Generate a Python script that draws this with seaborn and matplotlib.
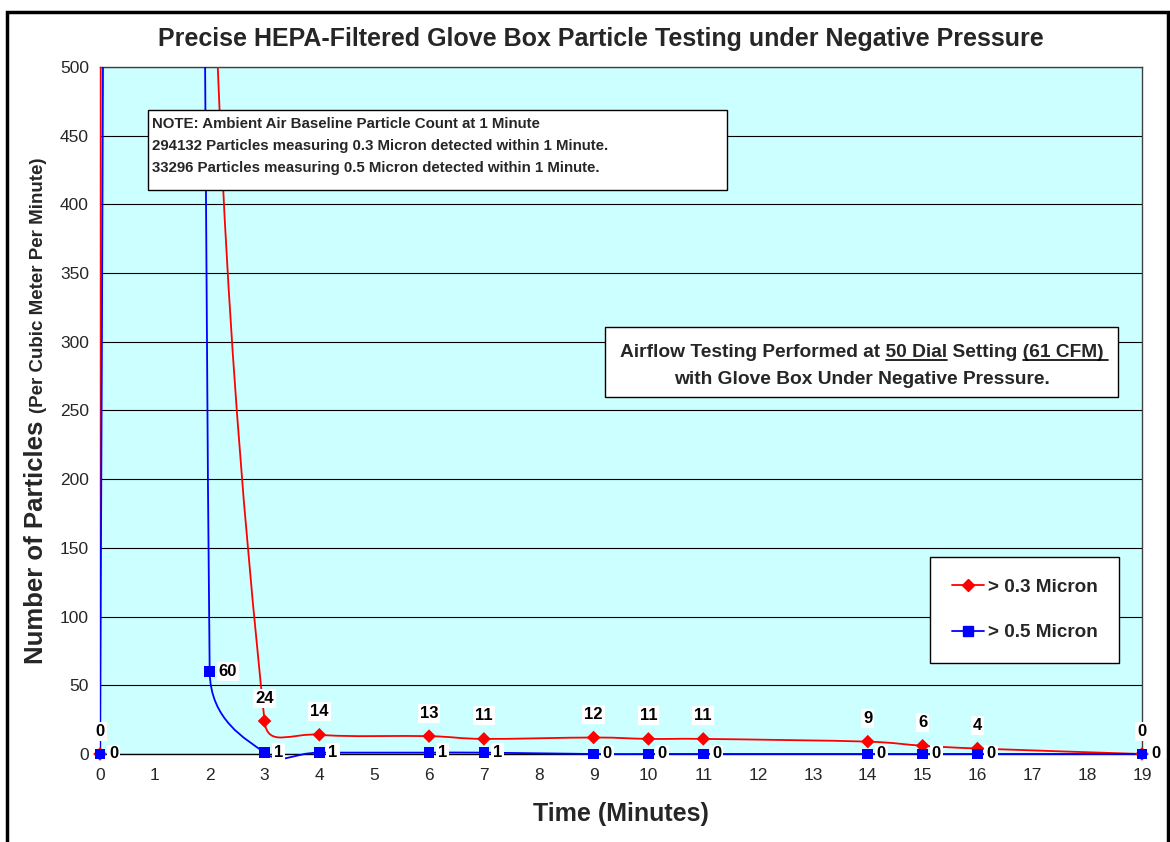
import numpy as np
import pandas as pd
import matplotlib
matplotlib.use("Agg")
import matplotlib.pyplot as plt
from matplotlib.path import Path
from matplotlib.patches import PathPatch, Rectangle
from matplotlib.lines import Line2D
import seaborn as sns

# data (values at 1 and 2 minutes run off the top, estimated)
minutes = [0, 1, 2, 3, 4, 6, 7, 9, 10, 11, 14, 15, 16, 19]
micron_03 = [0, 40000, 800, 24, 14, 13, 11, 12, 11, 11, 9, 6, 4, 0]
micron_05 = [0, 8000, 60, 1, 1, 1, 1, 0, 0, 0, 0, 0, 0, 0]
series_names = ["> 0.3 Micron", "> 0.5 Micron"]
x_ticks = list(range(0, 20))
y_ticks = list(range(0, 501, 50))

sns.set_style("white")
plt.rcParams["font.family"] = ["Liberation Sans", "DejaVu Sans"]

W, H, DPI = 1170, 842, 100
fig = plt.figure(figsize=(W / DPI, H / DPI), dpi=DPI)
ax_l, ax_r, ax_t, ax_b = 100, 1142, 67, 754
ax = fig.add_axes([ax_l / W, (H - ax_b) / H, (ax_r - ax_l) / W, (ax_b - ax_t) / H])
ax.set_facecolor("#CCFFFF")
ax.set_xlim(0, 19)
ax.set_ylim(0, 500)

# scale factors from data to pixels, used for Excel-like smoothing
sx = (ax_r - ax_l) / 19.0
sy = (ax_b - ax_t) / 500.0


def smooth_path(xs, ys):
    # Excel style: Catmull-Rom control points, clamped to half the segment
    pts = np.column_stack([np.array(xs, float) * sx, np.array(ys, float) * sy])
    n = len(pts)
    verts = [pts[0]]
    codes = [Path.MOVETO]
    for i in range(n - 1):
        p0 = pts[i - 1] if i > 0 else pts[i]
        p1 = pts[i]
        p2 = pts[i + 1]
        p3 = pts[i + 2] if i + 2 < n else pts[i + 1]
        d12 = np.linalg.norm(p2 - p1)
        d02 = np.linalg.norm(p2 - p0)
        d13 = np.linalg.norm(p3 - p1)
        f1 = 1 / 6 if d02 / 6 < d12 / 2 else d12 / 2 / d02
        f2 = 1 / 6 if d13 / 6 < d12 / 2 else d12 / 2 / d13
        c1 = p1 + (p2 - p0) * f1
        c2 = p2 - (p3 - p1) * f2
        verts += [c1, c2, p2]
        codes += [Path.CURVE4] * 3
    verts = np.array(verts) / np.array([sx, sy])
    return Path(verts, codes)


colors = {"> 0.3 Micron": "#FF0000", "> 0.5 Micron": "#0000FF"}
markers = {"> 0.3 Micron": "D", "> 0.5 Micron": "s"}

for name, vals in zip(series_names, [micron_03, micron_05]):
    patch = PathPatch(smooth_path(minutes, vals), facecolor="none",
                      edgecolor=colors[name], lw=1.3, zorder=3)
    ax.add_patch(patch)
    # let the small dip below zero show, but keep the rest inside the plot
    clip = Rectangle((0, -12), 19, 512, transform=ax.transData)
    patch.set_clip_path(clip)

df = pd.DataFrame({
    "minute": minutes * 2,
    "count": micron_03 + micron_05,
    "series": [series_names[0]] * len(minutes) + [series_names[1]] * len(minutes),
})
vis = df[df["count"] <= 500]
for name in series_names:
    sub = vis[vis["series"] == name]
    sns.scatterplot(data=sub, x="minute", y="count", marker=markers[name],
                    color=colors[name], s=60 if name == series_names[1] else 48,
                    edgecolor="none", clip_on=False, zorder=5, ax=ax, legend=False)

# data labels
lab_font = dict(fontsize=12, fontweight="bold", color="black")
box = dict(facecolor="white", edgecolor="none", pad=1.5)
for _, r in vis.iterrows():
    label = f"{int(r['count'])}"
    if r["series"] == series_names[0]:
        ax.annotate(label, (r["minute"], r["count"]), xytext=(0, 23),
                    textcoords="offset pixels", ha="center", va="center",
                    bbox=box, zorder=6, annotation_clip=False, **lab_font)
    else:
        ax.annotate(label, (r["minute"], r["count"]), xytext=(9, 0),
                    textcoords="offset pixels", ha="left", va="center",
                    bbox=box, zorder=6, annotation_clip=False, **lab_font)

# axes styling
ax.set_xticks(x_ticks)
ax.set_yticks(y_ticks)
ax.tick_params(axis="both", direction="out", length=5, width=1, color="black",
               labelsize=12.5, pad=3)
ax.tick_params(axis="x", pad=5)
ax.grid(axis="y", color="black", lw=0.8)
ax.set_axisbelow(True)
for sp in ax.spines.values():
    sp.set_color("#404040")
    sp.set_linewidth(1.0)
ax.spines["bottom"].set_color("black")
ax.set_xlabel("")
ax.set_ylabel("")

fig.text(601 / W, (H - 46) / H,
         "Precise HEPA-Filtered Glove Box Particle Testing under Negative Pressure",
         ha="center", va="baseline", fontsize=18, fontweight="bold")
fig.text(621 / W, (H - 814) / H, "Time (Minutes)",
         ha="center", va="center", fontsize=18, fontweight="bold")
fig.text(36 / W, (H - 542) / H, "Number of Particles", rotation=90,
         ha="center", va="center", fontsize=18.5, fontweight="bold")
fig.text(39 / W, (H - 285) / H, "(Per Cubic Meter Per Minute)", rotation=90,
         ha="center", va="center", fontsize=13.5, fontweight="bold")

# note box
note_lines = ["NOTE: Ambient Air Baseline Particle Count at 1 Minute",
              "294132 Particles measuring 0.3 Micron detected within 1 Minute.",
              "33296 Particles measuring 0.5 Micron detected within 1 Minute."]
for k, s in enumerate(note_lines):
    fig.text(152 / W, (H - (128 + 22 * k)) / H, s, ha="left", va="baseline",
             fontsize=10.8, fontweight="bold", zorder=7)
fig.patches.append(Rectangle((148 / W, (H - 190) / H), (727 - 148) / W, 80 / H,
                             transform=fig.transFigure, facecolor="white",
                             edgecolor="black", lw=1, zorder=6.5))

# airflow box
fig.patches.append(Rectangle((605 / W, (H - 397) / H), (1118 - 605) / W, 70 / H,
                             transform=fig.transFigure, facecolor="white",
                             edgecolor="black", lw=1, zorder=6.5))
line1 = "Airflow Testing Performed at 50 Dial Setting (61 CFM)"
line2 = "with Glove Box Under Negative Pressure."
cx = 862
afont = dict(fontsize=13.8, fontweight="bold")
fig.text(cx / W, (H - 357) / H, line1, ha="center", va="baseline", zorder=7, **afont)
fig.text(cx / W, (H - 384) / H, line2, ha="center", va="baseline", zorder=7, **afont)

fig.canvas.draw()
renderer = fig.canvas.get_renderer()


def text_w(s):
    t = fig.text(0, 0, s, **afont)
    w = t.get_window_extent(renderer).width
    t.remove()
    return w


full_w = text_w(line1)
start = cx - full_w / 2
for prefix, word, extra in [("Airflow Testing Performed at 50 Dial", "50 Dial", 0),
                            (line1, "(61 CFM)", 4)]:
    end = start + text_w(prefix)
    beg = end - text_w(word)
    yline = (H - 359.5) / H
    fig.lines.append(Line2D([beg / W, (end + extra) / W], [yline, yline],
                            transform=fig.transFigure, color="black", lw=1.2,
                            zorder=8))

# legend
handles = [Line2D([], [], color=colors[n], marker=markers[n], lw=1.3,
                  markersize=6 if n == series_names[0] else 7) for n in series_names]
leg = fig.legend(handles, series_names, loc="lower right",
                 bbox_to_anchor=(1119 / W, (H - 663) / H),
                 bbox_transform=fig.transFigure, frameon=True, fancybox=False,
                 prop=dict(size=13.6, weight="bold"), labelspacing=1.5,
                 handlelength=1.7, handletextpad=0.2, borderpad=1.15,
                 borderaxespad=0, edgecolor="black", framealpha=1)
leg.get_frame().set_linewidth(1.0)
leg.set_zorder(9)

# outer border
fig.patches.append(Rectangle((6.5 / W, -0.05), (1167.5 - 6.5) / W, (H - 11.5) / H + 0.05,
                             transform=fig.transFigure, facecolor="none",
                             edgecolor="black", lw=2.5, zorder=10))

fig.savefig("out.png", dpi=DPI)
